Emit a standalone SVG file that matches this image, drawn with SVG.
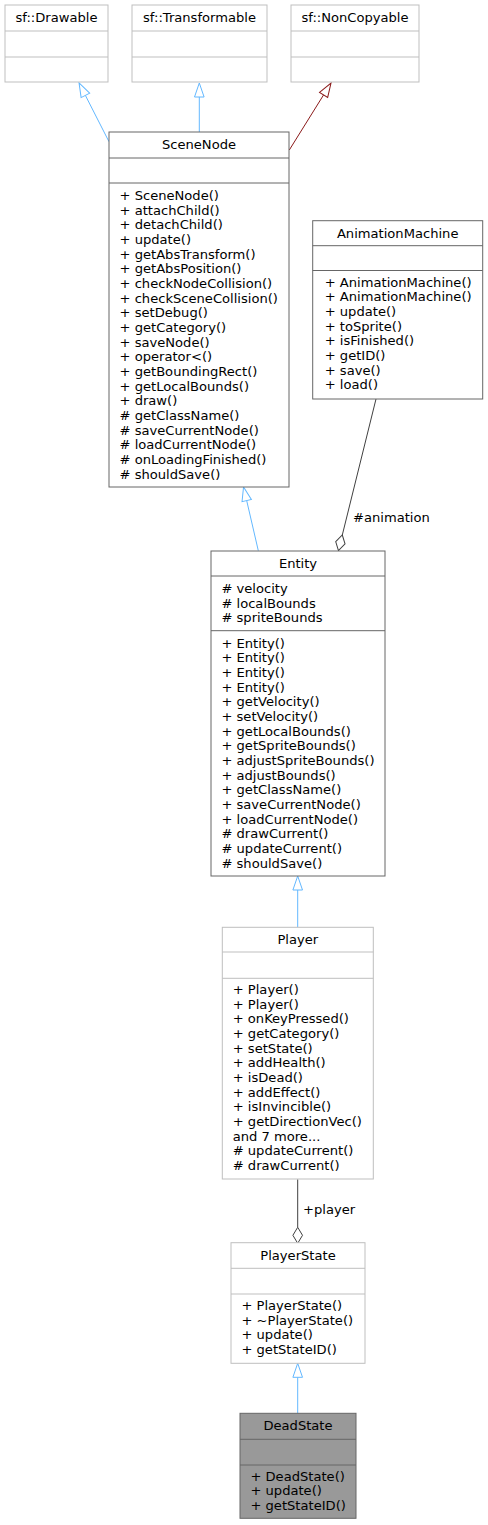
<svg xmlns="http://www.w3.org/2000/svg" width="488" height="1525" viewBox="0 0 488 1525">
<style>
.t{font-family:"DejaVu Sans",sans-serif;font-size:13.1px;fill:#000}
.c{text-anchor:middle}
.b1{fill:#fff;stroke:#666666}
.b2{fill:#fff;stroke:#bfbfbf}
.b3{fill:#999999;stroke:#666666}
.d1{stroke:#666666}
.d2{stroke:#bfbfbf}
.inh{stroke:#63b8ff;fill:none}
.priv{stroke:#8b1a1a;fill:none}
.agg{stroke:#404040;fill:none}
</style>
<defs>
<marker id="triB" markerUnits="userSpaceOnUse" orient="auto" viewBox="-1 -6 17 12" refX="0" refY="0" markerWidth="17" markerHeight="12" overflow="visible">
<path d="M0,-4.8 L14,0 L0,4.8 Z" fill="#fff" stroke="#63b8ff"/>
</marker>
<marker id="triR" markerUnits="userSpaceOnUse" orient="auto" viewBox="-1 -6 17 12" refX="0" refY="0" markerWidth="17" markerHeight="12" overflow="visible">
<path d="M0,-4.8 L14,0 L0,4.8 Z" fill="#fff" stroke="#8b1a1a"/>
</marker>
<marker id="dia" markerUnits="userSpaceOnUse" orient="auto" viewBox="-1 -6 18 12" refX="0" refY="0" markerWidth="18" markerHeight="12" overflow="visible">
<path d="M0,0 L8,-4.8 L16,0 L8,4.8 Z" fill="#fff" stroke="#404040"/>
</marker>
</defs>

<g id="connectors">
<path class="inh" d="M109,141.7 L85.4,95.4" marker-end="url(#triB)"/>
<path class="inh" d="M199.3,132 L199.3,97" marker-end="url(#triB)"/>
<path class="priv" d="M289.3,150 L323.6,94.9" marker-end="url(#triR)"/>
<path class="inh" d="M258.3,550.7 L246.7,500.6" marker-end="url(#triB)"/>
<path class="agg" d="M376,399 L342.3,535" marker-end="url(#dia)"/>
<text class="t" x="353" y="522">#animation</text>
<path class="inh" d="M297.7,927.3 L297.7,890" marker-end="url(#triB)"/>
<path class="agg" d="M297.7,1179.3 L297.7,1227.3" marker-end="url(#dia)"/>
<text class="t" x="303" y="1214">+player</text>
<path class="inh" d="M297.7,1413.3 L297.7,1377.3" marker-end="url(#triB)"/>
</g>

<g id="sfDrawable">
<rect class="b2" x="5" y="5" width="103" height="77"/>
<line class="d2" x1="5" y1="31" x2="108" y2="31"/>
<line class="d2" x1="5" y1="57" x2="108" y2="57"/>
<text class="t c" x="56.5" y="22">sf::Drawable</text>
</g>

<g id="sfTransformable">
<rect class="b2" x="132" y="5" width="135" height="77"/>
<line class="d2" x1="132" y1="31" x2="267" y2="31"/>
<line class="d2" x1="132" y1="57" x2="267" y2="57"/>
<text class="t c" x="199.5" y="22">sf::Transformable</text>
</g>

<g id="sfNonCopyable">
<rect class="b2" x="291" y="5" width="128" height="77"/>
<line class="d2" x1="291" y1="31" x2="419" y2="31"/>
<line class="d2" x1="291" y1="57" x2="419" y2="57"/>
<text class="t c" x="355" y="22">sf::NonCopyable</text>
</g>

<g id="SceneNode">
<rect class="b1" x="109" y="132" width="180" height="355"/>
<line class="d1" x1="109" y1="158" x2="289" y2="158"/>
<line class="d1" x1="109" y1="183" x2="289" y2="183"/>
<text class="t c" x="199" y="149">SceneNode</text>
<text class="t" x="119.5" y="200">+ SceneNode()</text>
<text class="t" x="119.5" y="214.67">+ attachChild()</text>
<text class="t" x="119.5" y="229.33">+ detachChild()</text>
<text class="t" x="119.5" y="244">+ update()</text>
<text class="t" x="119.5" y="258.67">+ getAbsTransform()</text>
<text class="t" x="119.5" y="273.33">+ getAbsPosition()</text>
<text class="t" x="119.5" y="288">+ checkNodeCollision()</text>
<text class="t" x="119.5" y="302.67">+ checkSceneCollision()</text>
<text class="t" x="119.5" y="317.33">+ setDebug()</text>
<text class="t" x="119.5" y="332">+ getCategory()</text>
<text class="t" x="119.5" y="346.67">+ saveNode()</text>
<text class="t" x="119.5" y="361.33">+ operator&lt;()</text>
<text class="t" x="119.5" y="376">+ getBoundingRect()</text>
<text class="t" x="119.5" y="390.67">+ getLocalBounds()</text>
<text class="t" x="119.5" y="405.33">+ draw()</text>
<text class="t" x="119.5" y="420"># getClassName()</text>
<text class="t" x="119.5" y="434.67"># saveCurrentNode()</text>
<text class="t" x="119.5" y="449.33"># loadCurrentNode()</text>
<text class="t" x="119.5" y="464"># onLoadingFinished()</text>
<text class="t" x="119.5" y="478.67"># shouldSave()</text>
</g>

<g id="AnimationMachine">
<rect class="b1" x="312.7" y="220.7" width="170" height="178.3"/>
<line class="d1" x1="312.7" y1="245.7" x2="482.7" y2="245.7"/>
<line class="d1" x1="312.7" y1="270.5" x2="482.7" y2="270.5"/>
<text class="t c" x="397.7" y="237.7">AnimationMachine</text>
<text class="t" x="324.7" y="286.5">+ AnimationMachine()</text>
<text class="t" x="324.7" y="301.17">+ AnimationMachine()</text>
<text class="t" x="324.7" y="315.83">+ update()</text>
<text class="t" x="324.7" y="330.5">+ toSprite()</text>
<text class="t" x="324.7" y="345.17">+ isFinished()</text>
<text class="t" x="324.7" y="359.83">+ getID()</text>
<text class="t" x="324.7" y="374.5">+ save()</text>
<text class="t" x="324.7" y="389.17">+ load()</text>
</g>

<g id="Entity">
<rect class="b1" x="211" y="551" width="174" height="325"/>
<line class="d1" x1="211" y1="576" x2="385" y2="576"/>
<line class="d1" x1="211" y1="630.7" x2="385" y2="630.7"/>
<text class="t c" x="298" y="568">Entity</text>
<text class="t" x="221.4" y="593"># velocity</text>
<text class="t" x="221.4" y="607.67"># localBounds</text>
<text class="t" x="221.4" y="622.33"># spriteBounds</text>
<text class="t" x="221.4" y="647.5">+ Entity()</text>
<text class="t" x="221.4" y="662.17">+ Entity()</text>
<text class="t" x="221.4" y="676.83">+ Entity()</text>
<text class="t" x="221.4" y="691.5">+ Entity()</text>
<text class="t" x="221.4" y="706.17">+ getVelocity()</text>
<text class="t" x="221.4" y="720.83">+ setVelocity()</text>
<text class="t" x="221.4" y="735.5">+ getLocalBounds()</text>
<text class="t" x="221.4" y="750.17">+ getSpriteBounds()</text>
<text class="t" x="221.4" y="764.83">+ adjustSpriteBounds()</text>
<text class="t" x="221.4" y="779.5">+ adjustBounds()</text>
<text class="t" x="221.4" y="794.17">+ getClassName()</text>
<text class="t" x="221.4" y="808.83">+ saveCurrentNode()</text>
<text class="t" x="221.4" y="823.5">+ loadCurrentNode()</text>
<text class="t" x="221.4" y="838.17"># drawCurrent()</text>
<text class="t" x="221.4" y="852.83"># updateCurrent()</text>
<text class="t" x="221.4" y="867.5"># shouldSave()</text>
</g>

<g id="Player">
<rect class="b2" x="222.3" y="927.3" width="151" height="251.7"/>
<line class="d2" x1="222.3" y1="952" x2="373.3" y2="952"/>
<line class="d2" x1="222.3" y1="978.3" x2="373.3" y2="978.3"/>
<text class="t c" x="297.8" y="944">Player</text>
<text class="t" x="232.7" y="994">+ Player()</text>
<text class="t" x="232.7" y="1008.67">+ Player()</text>
<text class="t" x="232.7" y="1023.33">+ onKeyPressed()</text>
<text class="t" x="232.7" y="1038">+ getCategory()</text>
<text class="t" x="232.7" y="1052.67">+ setState()</text>
<text class="t" x="232.7" y="1067.33">+ addHealth()</text>
<text class="t" x="232.7" y="1082">+ isDead()</text>
<text class="t" x="232.7" y="1096.67">+ addEffect()</text>
<text class="t" x="232.7" y="1111.33">+ isInvincible()</text>
<text class="t" x="232.7" y="1126">+ getDirectionVec()</text>
<text class="t" x="232.7" y="1140.67">and 7 more...</text>
<text class="t" x="232.7" y="1155.33"># updateCurrent()</text>
<text class="t" x="232.7" y="1170"># drawCurrent()</text>
</g>

<g id="PlayerState">
<rect class="b2" x="231" y="1242.7" width="134" height="120.6"/>
<line class="d2" x1="231" y1="1268.3" x2="365" y2="1268.3"/>
<line class="d2" x1="231" y1="1294" x2="365" y2="1294"/>
<text class="t c" x="298" y="1259.7">PlayerState</text>
<text class="t" x="241.4" y="1310">+ PlayerState()</text>
<text class="t" x="241.4" y="1324.67">+ ~PlayerState()</text>
<text class="t" x="241.4" y="1339.33">+ update()</text>
<text class="t" x="241.4" y="1354">+ getStateID()</text>
</g>

<g id="DeadState">
<rect class="b3" x="240" y="1413.3" width="116" height="105"/>
<line class="d1" x1="240" y1="1439.3" x2="356" y2="1439.3"/>
<line class="d1" x1="240" y1="1465" x2="356" y2="1465"/>
<text class="t c" x="298" y="1430.3">DeadState</text>
<text class="t" x="250.4" y="1480.7">+ DeadState()</text>
<text class="t" x="250.4" y="1495.37">+ update()</text>
<text class="t" x="250.4" y="1510">+ getStateID()</text>
</g>
</svg>
